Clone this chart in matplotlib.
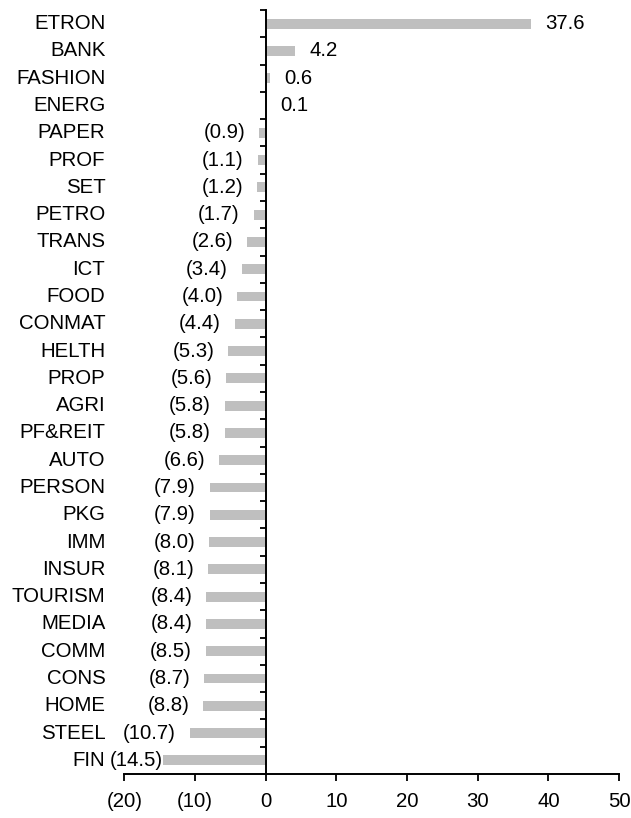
import matplotlib
matplotlib.use("Agg")
import matplotlib.pyplot as plt
import numpy as np
from matplotlib.ticker import FuncFormatter, FixedLocator

categories = ["ETRON", "BANK", "FASHION", "ENERG", "PAPER", "PROF", "SET", "PETRO",
              "TRANS", "ICT", "FOOD", "CONMAT", "HELTH", "PROP", "AGRI", "PF&REIT",
              "AUTO", "PERSON", "PKG", "IMM", "INSUR", "TOURISM", "MEDIA", "COMM",
              "CONS", "HOME", "STEEL", "FIN"]
values = [37.6, 4.2, 0.6, 0.1, -0.9, -1.1, -1.2, -1.7, -2.6, -3.4, -4.0, -4.4,
          -5.3, -5.6, -5.8, -5.8, -6.6, -7.9, -7.9, -8.0, -8.1, -8.4, -8.4, -8.5,
          -8.7, -8.8, -10.7, -14.5]
xticks = [-20, -10, 0, 10, 20, 30, 40, 50]

plt.rcParams['font.family'] = ['Liberation Sans', 'DejaVu Sans']
FS = 14.7

fig = plt.figure(figsize=(6.31, 8.18), dpi=100)
L, R, T, B = 124.3, 619.0, 10.0, 774.0
ax = fig.add_axes([L/631, 1 - B/818, (R-L)/631, (B-T)/818])

n = len(categories)
y = np.arange(n)
ax.barh(y, values, height=0.36, color="#BFBFBF", zorder=2)
ax.set_ylim(n - 0.5, -0.5)
ax.set_xlim(-20, 50)

def fmt(v, pos=None):
    if v < 0:
        return f"({abs(v):g})"
    return f"{v:g}"

ax.xaxis.set_major_locator(FixedLocator(xticks))
ax.xaxis.set_major_formatter(FuncFormatter(lambda v, p: f"({abs(int(v))})" if v < 0 else f"{int(v)}"))
ax.tick_params(axis='x', direction='out', length=5, width=1.3, labelsize=FS, pad=8)

for s in ['top', 'right']:
    ax.spines[s].set_visible(False)
ax.spines['left'].set_position(('data', 0))
ax.spines['left'].set_linewidth(1.4)
ax.spines['bottom'].set_linewidth(1.4)

ax.yaxis.set_major_locator(FixedLocator(np.arange(-0.5, n, 1.0)))
ax.tick_params(axis='y', direction='out', length=4.5, width=1.3, labelleft=False)

# category labels
for yi, c in zip(y, categories):
    ax.annotate(c, xy=(0, yi), xycoords=('axes fraction', 'data'),
                xytext=(-19, 0), textcoords='offset pixels',
                ha='right', va='center', fontsize=FS)

# value labels
for yi, v in zip(y, values):
    if v >= 0:
        ax.annotate(fmt(v), xy=(v, yi), xytext=(14, 0), textcoords='offset pixels',
                    ha='left', va='center', fontsize=FS)
    else:
        off = -14 if v > -12 else 0
        ax.annotate(f"({abs(v):.1f})", xy=(v, yi), xytext=(off, 0), textcoords='offset pixels',
                    ha='right', va='center', fontsize=FS)

fig.savefig("out.png", dpi=100)
